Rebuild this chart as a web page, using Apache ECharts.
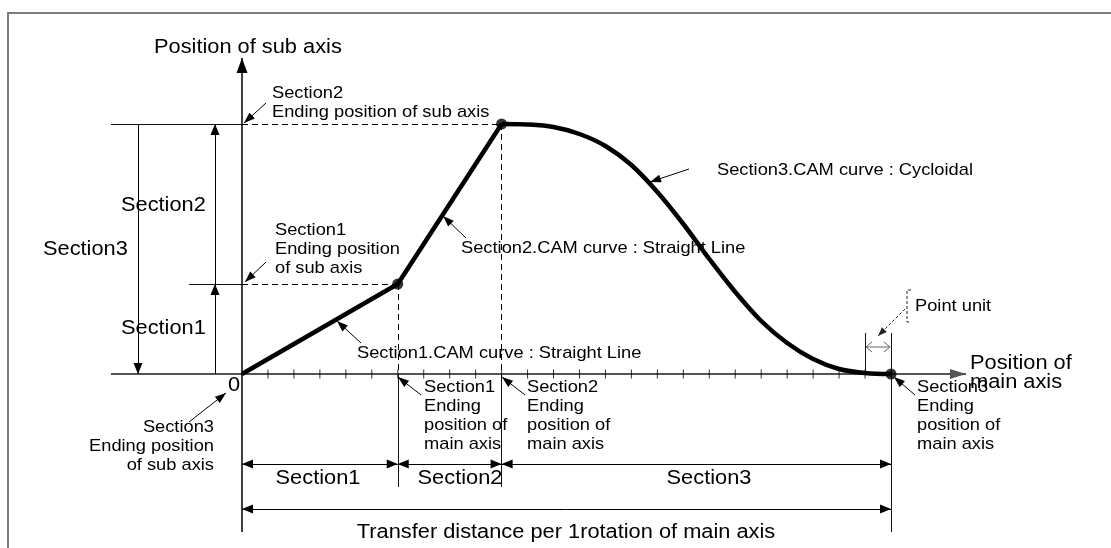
<!DOCTYPE html>
<html>
<head>
<meta charset="utf-8">
<script src="https://cdn.jsdelivr.net/npm/echarts@6/dist/echarts.min.js"></script>
<style>
  html, body { margin: 0; padding: 0; background: #fff; }
  #chart { width: 1111px; height: 548px; }
</style>
</head>
<body>
<div id="chart"></div>
<script>
// Main-axis positions where each section ends (start, Section1, Section2, Section3)
const mainEnds = [0, 6, 10, 25];
// Sub-axis positions reached at those main-axis positions
const subEnds = [0, 3.6, 10, 0];
// Section3 cycloidal CAM curve, sampled along the main axis
const camX = [10, 11, 12, 13, 14, 15, 16, 17, 18, 19, 20, 21, 22, 23, 24, 25];
const camY = [10, 9.98, 9.88, 9.6, 9.12, 8.36, 7.28, 6.0, 4.6, 3.28, 2.12, 1.24, 0.6, 0.2, 0.04, 0];
// Point-unit tick marks on the main axis
const tickPos = [1, 2, 3, 4, 5, 6, 7, 8, 9, 10, 11, 12, 13, 14, 15, 16, 17, 18, 19, 20, 21, 22, 23, 24];
const originLabel = '0';

// ---- layout ----
const W = 1111, H = 548;
const OX = 242, OY = 374;          // pixel position of the origin
const UX = 649 / 25;               // pixels per main-axis unit
const UY = 25;                     // pixels per sub-axis unit
const ux = p => (p - OX) / UX;     // pixel column -> main-axis value
const uy = p => (OY - p) / UY;     // pixel row -> sub-axis value

const FONT = '"Liberation Sans", Arial, Helvetica, sans-serif';
const BIG = 20, SMALL = 17, LH = 19;
const BIG_SX = 1.09, SMALL_SX = 1.075;   // slightly wide lettering

// filled arrowhead whose tip sits on the line end
function arrow(len, wid) {
  const s = 2 * len;
  return `path://M0,0 M${s},${s} M${len},${len} L${len + wid / 2},${s} L${len - wid / 2},${s} Z`;
}
const seg = (a, b) => ({ coords: [a, b] });

function linesSeries(data, opts) {
  return Object.assign({
    type: 'lines',
    coordinateSystem: 'cartesian2d',
    polyline: false,
    silent: true,
    symbol: ['none', 'none'],
    symbolSize: 10,
    lineStyle: { color: '#000', width: 1, opacity: 1, type: 'solid' },
    data: data
  }, opts);
}

function text(str, x, y, size, align, vAlign) {
  return {
    type: 'text', x: x, y: y, silent: true, z: 10,
    scaleX: size === BIG ? BIG_SX : SMALL_SX,
    style: {
      text: str, fill: '#000',
      font: `${size}px ${FONT}`,
      textAlign: align || 'left',
      textVerticalAlign: vAlign || 'middle',
      lineHeight: LH
    }
  };
}
const block = (str, x, firstY, align) => text(str, x, firstY - LH / 2, SMALL, align, 'top');

const pt = i => [mainEnds[i], subEnds[i]];

const chart = echarts.init(document.getElementById('chart'), null, { renderer: 'canvas' });

chart.setOption({
  animation: false,
  backgroundColor: '#fff',
  grid: { left: 0, right: 0, top: 0, bottom: 0 },
  xAxis: { type: 'value', min: -OX / UX, max: (W - OX) / UX, show: false, splitLine: { show: false } },
  yAxis: { type: 'value', min: -(H - OY) / UY, max: OY / UY, show: false, splitLine: { show: false } },
  series: [
    // main axis
    linesSeries([seg([ux(111), 0], [ux(966), 0])], {
      symbol: ['none', arrow(16, 10)], symbolSize: 32,
      lineStyle: { color: '#555', width: 2, opacity: 1 }
    }),
    // sub axis
    linesSeries([seg([0, uy(532)], [0, uy(58)])], {
      symbol: ['none', arrow(15, 11)], symbolSize: 30,
      lineStyle: { color: '#000', width: 1.5, opacity: 1 }
    }),
    // tick marks
    {
      type: 'scatter', silent: true,
      symbol: 'rect', symbolSize: [1, 9],
      itemStyle: { color: '#000' },
      data: tickPos.map(t => [t, 0])
    },
    // dashed guides from the section end points
    linesSeries([
      seg([0, subEnds[2]], pt(2)),
      seg([0, subEnds[1]], pt(1)),
      seg(pt(1), [mainEnds[1], 0]),
      seg(pt(2), [mainEnds[2], 0])
    ], { lineStyle: { color: '#000', width: 1, opacity: 1, type: [6, 4] } }),
    // solid extension lines
    linesSeries([
      seg([ux(111), subEnds[2]], [0, subEnds[2]]),
      seg([ux(189), subEnds[1]], [0, subEnds[1]]),
      seg([mainEnds[1], 0], [mainEnds[1], uy(487)]),
      seg([mainEnds[2], 0], [mainEnds[2], uy(487)]),
      seg([mainEnds[3], uy(333)], [mainEnds[3], uy(532)]),
      seg([mainEnds[3] - 1, uy(333)], [mainEnds[3] - 1, 0])
    ], { lineStyle: { color: '#111', width: 1, opacity: 1 } }),
    // sub-axis section heights
    linesSeries([
      seg([ux(138), subEnds[2]], [ux(138), 0]),
      seg([ux(215), subEnds[1]], [ux(215), subEnds[2]]),
      seg([ux(215), 0], [ux(215), subEnds[1]])
    ], { symbol: ['none', arrow(11, 9)], symbolSize: 22 }),
    // main-axis section lengths
    linesSeries([
      seg([mainEnds[0], uy(464)], [mainEnds[1], uy(464)]),
      seg([mainEnds[1], uy(464)], [mainEnds[2], uy(464)]),
      seg([mainEnds[2], uy(464)], [mainEnds[3], uy(464)]),
      seg([mainEnds[0], uy(509)], [mainEnds[3], uy(509)])
    ], { symbol: [arrow(11, 9), arrow(11, 9)], symbolSize: 22 }),
    // label pointers
    linesSeries([
      seg([ux(266), uy(103)], [ux(244), uy(123)]),
      seg([ux(266), uy(262)], [ux(245), uy(282)]),
      seg([ux(466), uy(238)], [ux(443), uy(216)]),
      seg([ux(361), uy(343)], [ux(337), uy(321)]),
      seg([ux(689), uy(169)], [ux(650), uy(182)]),
      seg([ux(189), uy(422)], [ux(226), uy(393)]),
      seg([ux(421), uy(395)], [ux(398), uy(377)]),
      seg([ux(525), uy(395)], [ux(502), uy(377)]),
      seg([ux(915), uy(395)], [ux(894), uy(377)])
    ], { symbol: ['none', arrow(11, 8)], symbolSize: 22 }),
    // point-unit pointer
    linesSeries([seg([ux(905), uy(309)], [ux(878), uy(336)])], {
      symbol: ['none', arrow(9, 7)], symbolSize: 18,
      lineStyle: { color: '#222', width: 1, opacity: 1, type: [3, 2] }
    }),
    // Section1 and Section2 straight lines
    {
      type: 'line', silent: true, showSymbol: false,
      lineStyle: { color: '#000', width: 4.5 },
      data: [pt(0), pt(1), pt(2)], z: 5
    },
    // Section3 cycloidal curve
    {
      type: 'line', silent: true, showSymbol: false,
      smooth: 0.35,
      lineStyle: { color: '#000', width: 4.5 },
      data: camX.map((x, i) => [x, camY[i]]), z: 5
    },
    // section end points
    {
      type: 'scatter', silent: true, symbolSize: 11,
      itemStyle: { color: '#000' },
      data: [pt(1), pt(2), pt(3)], z: 6
    }
  ],
  graphic: [
    // frame
    { type: 'polyline', silent: true, shape: { points: [[8, H], [8, 13], [W, 13]] },
      style: { stroke: '#7d7d7d', lineWidth: 2, fill: null } },
    // point-unit span
    { type: 'polyline', silent: true, shape: { points: [[866, 347], [890, 347]] }, style: { stroke: '#666', lineWidth: 1, fill: null } },
    { type: 'polyline', silent: true, shape: { points: [[872, 342], [866, 347], [872, 352]] }, style: { stroke: '#666', lineWidth: 1, fill: null } },
    { type: 'polyline', silent: true, shape: { points: [[884, 342], [890, 347], [884, 352]] }, style: { stroke: '#666', lineWidth: 1, fill: null } },
    { type: 'polyline', silent: true, shape: { points: [[911, 290], [907, 290], [907, 322], [911, 322]] },
      style: { stroke: '#222', lineWidth: 1, fill: null, lineDash: [3, 2] } },

    text('Position of sub axis', 154, 47, BIG),
    text('Section2', 121, 205, BIG),
    text('Section3', 43, 249, BIG),
    text('Section1', 121, 328, BIG),
    text(originLabel, 234, 385, BIG, 'center'),
    text('Position of\nmain axis', 970, 373, BIG, 'left'),
    text('Section1', 318, 478, BIG, 'center'),
    text('Section2', 460, 478, BIG, 'center'),
    text('Section3', 709, 478, BIG, 'center'),
    text('Transfer distance per 1rotation of main axis', 566, 532, BIG, 'center'),

    block('Section2\nEnding position of sub axis', 272, 93),
    block('Section1\nEnding position\nof sub axis', 275, 230),
    text('Section2.CAM curve : Straight Line', 461, 248, SMALL),
    text('Section1.CAM curve : Straight Line', 357, 353, SMALL),
    text('Section3.CAM curve : Cycloidal', 717, 170, SMALL),
    block('Section3\nEnding position\nof sub axis', 214, 427, 'right'),
    block('Section1\nEnding\nposition of\nmain axis', 424, 387),
    block('Section2\nEnding\nposition of\nmain axis', 527, 387),
    block('Section3\nEnding\nposition of\nmain axis', 917, 387),
    text('Point unit', 915, 306, SMALL)
  ]
});
</script>
</body>
</html>
